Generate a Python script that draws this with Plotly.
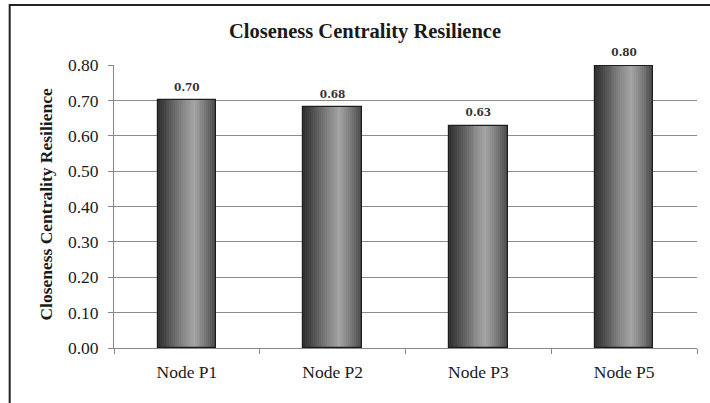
import plotly.graph_objects as go

categories = ["Node P1", "Node P2", "Node P3", "Node P5"]
values = [0.70, 0.68, 0.627, 0.797]
y_ticks = [0.0, 0.1, 0.2, 0.3, 0.4, 0.5, 0.6, 0.7, 0.8]

title_text = "Closeness Centrality Resilience"
y_title = "Closeness Centrality Resilience"

# layout geometry (pixels)
W, H = 710, 403
L, R, T, B = 113.5, 12.5, 65, 55
pw, ph = W - L - R, H - T - B

bar_w = 0.40
n_strips = 30
# cylinder shading stops (position, gray level)
stops = [(0.0, 48), (0.12, 70), (0.45, 138), (0.62, 165), (0.8, 125), (1.0, 72)]

def shade(t):
    for (p0, g0), (p1, g1) in zip(stops[:-1], stops[1:]):
        if p0 <= t <= p1:
            g = g0 + (g1 - g0) * (t - p0) / (p1 - p0)
            g = int(round(g))
            return f"rgb({g},{g},{g})"
    g = stops[-1][1]
    return f"rgb({g},{g},{g})"

fig = go.Figure()
sw = bar_w / n_strips
for i in range(n_strips):
    t = (i + 0.5) / n_strips
    fig.add_trace(go.Bar(
        x=categories, y=values,
        width=sw * 1.08, offset=-bar_w / 2 + i * sw,
        marker=dict(color=shade(t), line=dict(width=0)),
        hoverinfo="skip", showlegend=False,
    ))

# outline
fig.add_trace(go.Bar(
    x=categories, y=values, width=bar_w, offset=-bar_w / 2,
    marker=dict(color="rgba(0,0,0,0)", line=dict(color="#1e1e1e", width=1.2)),
    hoverinfo="skip", showlegend=False,
))

# value labels
fig.add_trace(go.Scatter(
    x=categories, y=values, mode="markers+text",
    marker=dict(size=10, color="rgba(0,0,0,0)"),
    texttemplate="<b>%{y:.2f}</b>",
    textposition="top center",
    textfont=dict(family="DejaVu Serif", size=10.5, color="#333333"),
    cliponaxis=False,
    hoverinfo="skip", showlegend=False,
))

serif = "Liberation Serif"
fig.update_layout(
    width=W, height=H,
    margin=dict(l=L, r=R, t=T, b=B, pad=0),
    paper_bgcolor="white", plot_bgcolor="white",
    barmode="overlay",
    bargap=0,
    title=dict(text=f"<b>{title_text}</b>", x=(365) / W, xref="container", xanchor="center",
               y=1 - 31 / H, yref="container", yanchor="middle",
               font=dict(family=serif, size=20.5, color="#1a1a1a")),
    xaxis=dict(
        type="category", range=[-0.5, 3.5],
        showgrid=False, showline=True, linecolor="#888888", linewidth=1,
        ticks="outside", tickson="boundaries", ticklen=5, tickcolor="#888888",
        tickfont=dict(family=serif, size=17.5, color="#1a1a1a"),
        ticklabelstandoff=8,
    ),
    yaxis=dict(
        range=[0, 0.8], tickvals=y_ticks, tickformat=".2f",
        showgrid=True, gridcolor="#8c8c8c", gridwidth=1,
        zeroline=False, showline=True, linecolor="#888888", linewidth=1,
        ticks="outside", ticklen=5, tickcolor="#888888",
        tickfont=dict(family=serif, size=17.5, color="#1a1a1a"),
        ticklabelstandoff=6,
    ),
    annotations=[dict(
        text=f"<b>{y_title}</b>", textangle=-90,
        xref="paper", yref="paper",
        x=(45 - L) / pw, y=(H - B - 204) / ph,
        xanchor="center", yanchor="middle", showarrow=False,
        font=dict(family=serif, size=17.5, color="#1a1a1a"),
    )],
    shapes=[dict(
        type="rect", xref="paper", yref="paper",
        x0=(9 - L) / pw, x1=(720 - L) / pw,
        y0=(H - B - 415) / ph, y1=(H - B - 5) / ph,
        line=dict(color="#222222", width=2), fillcolor="rgba(0,0,0,0)", layer="below",
    )],
)

fig.write_html("out.html", config={"displayModeBar": False},
               post_script="document.body.style.margin='0';document.body.style.overflow='hidden';")
